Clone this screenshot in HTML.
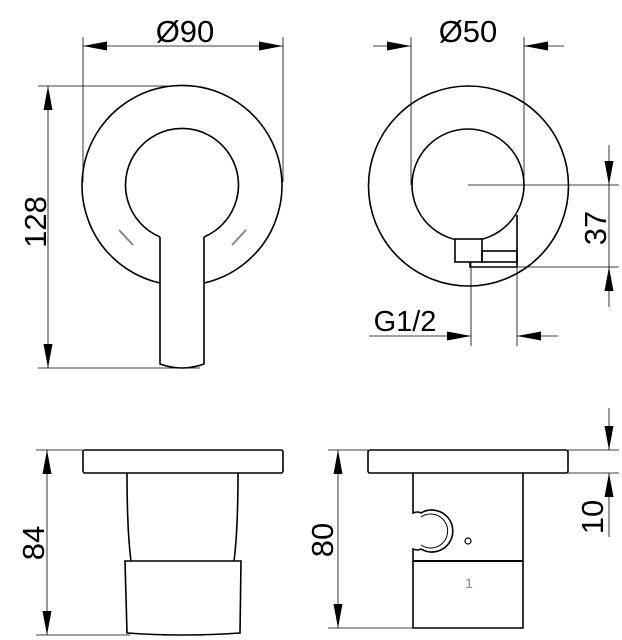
<!DOCTYPE html>
<html><head><meta charset="utf-8"><style>
html,body{margin:0;padding:0;background:#fff;}
svg{display:block;}
text{font-family:"Liberation Sans",Arial,sans-serif;fill:#000;}
</style></head><body>
<svg width="622" height="640" viewBox="0 0 622 640" xmlns="http://www.w3.org/2000/svg">
<defs>
<marker id="a" viewBox="0 0 24 9" refX="24" refY="4.5" markerWidth="24" markerHeight="9" markerUnits="userSpaceOnUse" orient="auto-start-reverse"><path d="M0,0 L24,4.5 L0,9 Z" fill="#000"/></marker>
</defs>
<g stroke="#000" stroke-width="0.8" fill="none">
<line x1="83" y1="37" x2="83" y2="182"/>
<line x1="283" y1="37" x2="283" y2="182"/>
<line x1="83" y1="46" x2="283" y2="46" marker-start="url(#a)" marker-end="url(#a)"/>
<line x1="38" y1="86" x2="175" y2="86"/>
<line x1="38" y1="368" x2="200" y2="368"/>
<line x1="48" y1="86" x2="48" y2="368" marker-start="url(#a)" marker-end="url(#a)"/>
<line x1="411" y1="37" x2="411" y2="185"/>
<line x1="524" y1="37" x2="524" y2="185"/>
<line x1="373" y1="46" x2="411" y2="46" marker-end="url(#a)"/>
<line x1="564" y1="46" x2="524" y2="46" marker-end="url(#a)"/>
<line x1="468" y1="185" x2="619" y2="185"/>
<line x1="470" y1="267" x2="619" y2="267"/>
<line x1="609" y1="145" x2="609" y2="185" marker-end="url(#a)"/>
<line x1="609" y1="185" x2="609" y2="267"/>
<line x1="609" y1="307" x2="609" y2="267" marker-end="url(#a)"/>
<line x1="471" y1="262" x2="471" y2="346"/>
<line x1="517" y1="262" x2="517" y2="346"/>
<line x1="369" y1="336" x2="471" y2="336" marker-end="url(#a)"/>
<line x1="558" y1="336" x2="517" y2="336" marker-end="url(#a)"/>
<line x1="36" y1="450" x2="83" y2="450"/>
<line x1="36" y1="635" x2="130" y2="635"/>
<line x1="47" y1="450" x2="47" y2="635" marker-start="url(#a)" marker-end="url(#a)"/>
<line x1="328" y1="450" x2="368" y2="450"/>
<line x1="328" y1="628" x2="413" y2="628"/>
<line x1="338" y1="450" x2="338" y2="628" marker-start="url(#a)" marker-end="url(#a)"/>
<line x1="568" y1="450" x2="619" y2="450"/>
<line x1="523" y1="473" x2="619" y2="473"/>
<line x1="609" y1="408" x2="609" y2="450" marker-end="url(#a)"/>
<line x1="609" y1="537" x2="609" y2="473" marker-end="url(#a)"/>
</g>
<g stroke="#000" stroke-width="1.6" fill="none">
<path d="M160,283 A100,100 0 1 1 204,283"/>
<path d="M160,237 A56.5,56.5 0 1 1 204,237"/>
<path d="M160,237 L160,364 Q182,372 204,364 L204,237"/>
<circle cx="468.5" cy="186" r="100"/>
<circle cx="468" cy="185" r="56"/>
<rect x="455" y="239" width="27" height="23" fill="#fff"/>
<rect x="482" y="251" width="35" height="11"/>
<line x1="517" y1="215" x2="517" y2="267"/>
<path d="M470,262 L470,267 L517,267"/>
<rect x="83" y="450" width="200" height="23" rx="2"/>
<path d="M127,473 Q127,530 131,561 M238,473 Q238,530 234,561"/>
<path d="M125,561 L241,561 L240,633 Q182,637 127,633 Z"/>
<rect x="368" y="450" width="200" height="23" rx="2"/>
<path d="M413,473 L413,513 Q418,511 421,513 A21,21 0 1 1 421,549 Q418,551 413,549 L413,628 L523,628 L523,473"/>
<path d="M421,517 A17,17 0 1 1 421,545" stroke-width="1"/>
<line x1="413" y1="561" x2="523" y2="561" stroke-width="2"/>
<circle cx="468" cy="541" r="3" stroke-width="1.2"/>
</g>
<g stroke="#888" stroke-width="2">
<line x1="119" y1="230" x2="133" y2="245"/>
<line x1="232" y1="245" x2="246" y2="230"/>
</g>
<text x="185" y="42" font-size="31" text-anchor="middle">Ø90</text>
<text x="468" y="42" font-size="31" text-anchor="middle">Ø50</text>
<text x="405" y="331" font-size="29" text-anchor="middle">G1/2</text>
<text x="469" y="588" font-size="14" style="fill:#888" text-anchor="middle">1</text>
<text transform="translate(46,222) rotate(-90)" font-size="31" text-anchor="middle">128</text>
<text transform="translate(606,228) rotate(-90)" font-size="31" text-anchor="middle">37</text>
<text transform="translate(44,543) rotate(-90)" font-size="31" text-anchor="middle">84</text>
<text transform="translate(333,540) rotate(-90)" font-size="31" text-anchor="middle">80</text>
<text transform="translate(603,517) rotate(-90)" font-size="31" text-anchor="middle">10</text>
</svg>
</body></html>
